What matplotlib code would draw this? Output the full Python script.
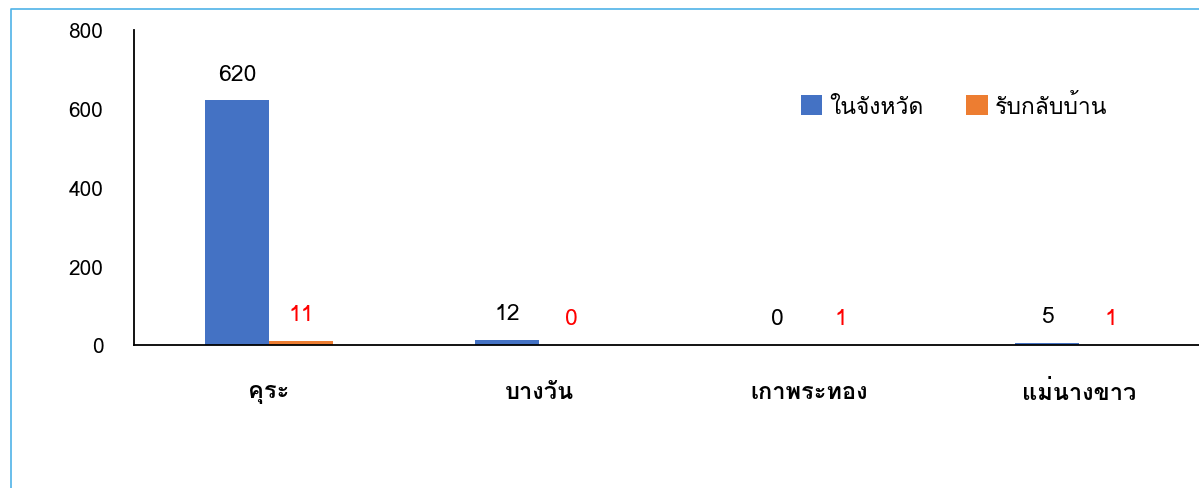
import matplotlib
matplotlib.use("Agg")
import matplotlib.pyplot as plt
from matplotlib import font_manager
from matplotlib.ft2font import FT2Font
from matplotlib.lines import Line2D
import numpy as np

categories = ['คุระ', 'บางวัน', 'เกาพระทอง', 'แม่นางขาว']
series_names = ['ในจังหวัด', 'รับกลับบ้าน']
in_province = [620, 12, 0, 5]
returned_home = [11, 0, 1, 1]
y_ticks = [0, 200, 400, 600, 800]

# find a font that covers Thai
thai_families = []
for f in font_manager.fontManager.ttflist:
    try:
        cm = FT2Font(f.fname).get_charmap()
        if 0x0E01 in cm and f.name not in thai_families:
            thai_families.append(f.name)
    except Exception:
        pass
fams = thai_families[:1] + ['DejaVu Sans']
plt.rcParams['font.family'] = fams

fig = plt.figure(figsize=(11.99, 4.89), dpi=100)
ax = fig.add_axes([134/1199, 143/489, 1080/1199, 315.5/489])

x = np.arange(len(categories))
w = 0.237
b1 = ax.bar(x - w/2, in_province, w, color='#4472C4', label=series_names[0])
b2 = ax.bar(x + w/2, returned_home, w, color='#ED7D31', label=series_names[1])

for rect, v in zip(b1, in_province):
    ax.annotate(str(v), (rect.get_x() + rect.get_width()/2, rect.get_height()),
                xytext=(0, 19), textcoords='offset points', ha='center', va='center',
                fontsize=16.5, color='black')
for rect, v in zip(b2, returned_home):
    ax.annotate(str(v), (rect.get_x() + rect.get_width()/2, rect.get_height()),
                xytext=(0, 19), textcoords='offset points', ha='center', va='center',
                fontsize=16.5, color='red')

ax.set_xlim(-0.5, 3.5)
ax.set_ylim(0, 800)
ax.set_yticks(y_ticks)
ax.set_xticks(x)
ax.set_xticklabels(categories, fontsize=17, fontweight='bold')
ax.tick_params(axis='y', length=0, pad=22, labelsize=15)
ax.tick_params(axis='x', length=0, pad=25.5)
for s in ['top', 'right']:
    ax.spines[s].set_visible(False)
for s in ['left', 'bottom']:
    ax.spines[s].set_color('black')
    ax.spines[s].set_linewidth(1.3)

fig.legend(handles=[b1, b2], labels=series_names, loc='center left',
           bbox_to_anchor=(780/1199, 1 - 107/489), ncol=2, frameon=False,
           fontsize=16.5, handlelength=0.95, handleheight=0.95, handletextpad=0.3,
           columnspacing=1.85)

fig.add_artist(Line2D([11/1199, 11/1199, 1.0], [0, 1 - 10/489, 1 - 10/489],
                      transform=fig.transFigure, color='#4FB3E8', linewidth=1.2))

fig.savefig('out.png', dpi=100)
